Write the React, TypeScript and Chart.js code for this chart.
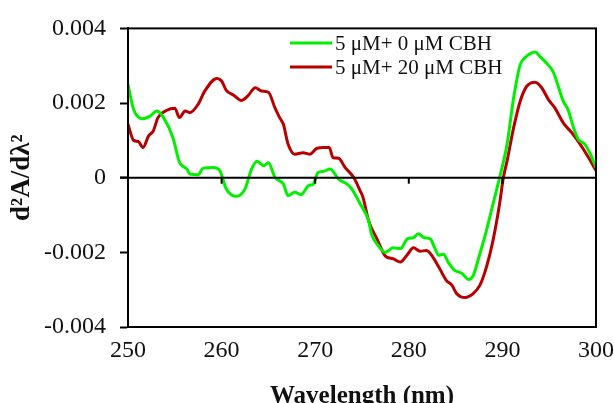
import React, { useEffect, useRef } from "react";
import { Chart, registerables } from "chart.js";

Chart.register(...registerables);

const seriesLabels = ["5 μM+ 0 μM CBH", "5 μM+ 20 μM CBH"];

const greenX = [250.0, 250.6, 251.6, 252.35, 253.1, 253.8, 254.8, 255.5, 256.3, 256.6, 257.5, 258.0, 259.1, 259.8, 260.5, 261.6, 262.5, 263.2, 263.8, 264.5, 265.0, 265.7, 266.6, 267.1, 267.8, 268.5, 269.3, 269.8, 270.3, 270.9, 271.6, 272.5, 273.4, 273.9, 274.8, 275.7, 276.0, 276.7, 277.5, 278.3, 279.1, 279.9, 280.5, 281.0, 281.7, 282.3, 282.8, 283.2, 283.7, 284.2, 284.8, 285.7, 286.4, 286.9, 287.6, 288.3, 289.0, 289.7, 290.5, 291.2, 291.9, 292.4, 293.5, 294.0, 294.7, 295.4, 295.9, 296.5, 297.0, 297.6, 298.1, 298.8, 299.4, 300.0];
const greenY = [0.0025, 0.00183, 0.00158, 0.00165, 0.00179, 0.00161, 0.00107, 0.00041, 0.00023, 0.0001, 0.00008, 0.00025, 0.00027, 0.00019, -0.0003, -0.0005, -0.0003, 0.00023, 0.00044, 0.00032, 0.0004, 0.00001, -0.00017, -0.00048, -0.00039, -0.00045, -0.00021, -0.00017, 0.00014, 0.00017, 0.00023, -0.00004, -0.00017, -0.0003, -0.0007, -0.00115, -0.0015, -0.00181, -0.002, -0.00188, -0.0019, -0.00163, -0.00161, -0.0015, -0.00161, -0.00164, -0.0019, -0.00208, -0.00205, -0.00226, -0.00246, -0.00257, -0.00273, -0.00261, -0.00203, -0.00141, -0.0007, 0.0, 0.0009, 0.00214, 0.00303, 0.00321, 0.00337, 0.00325, 0.00307, 0.00285, 0.0025, 0.00205, 0.00183, 0.00134, 0.00103, 0.0009, 0.00063, 0.00027];

const redX = [250.0, 250.6, 251.1, 251.6, 252.2, 252.7, 253.2, 254.1, 255.0, 255.5, 256.1, 256.6, 257.5, 258.2, 259.5, 260.0, 260.5, 261.3, 262.1, 262.8, 263.6, 264.3, 265.0, 265.7, 266.2, 266.6, 267.1, 267.8, 268.7, 269.4, 270.2, 270.9, 271.5, 271.9, 272.5, 273.2, 274.1, 274.8, 275.1, 275.7, 276.6, 277.5, 278.3, 279.1, 279.8, 280.5, 281.2, 281.9, 282.3, 283.2, 284.0, 284.6, 285.1, 286.0, 286.9, 287.6, 288.3, 289.0, 289.7, 290.1, 290.5, 291.2, 291.9, 292.6, 293.5, 294.2, 294.9, 295.6, 296.5, 297.4, 298.3, 299.2, 300.0];
const redY = [0.00143, 0.001, 0.00097, 0.00081, 0.00112, 0.00125, 0.00161, 0.0018, 0.00186, 0.00161, 0.00179, 0.00174, 0.00197, 0.00232, 0.00266, 0.00259, 0.00234, 0.00221, 0.00207, 0.00219, 0.00241, 0.00232, 0.00229, 0.00187, 0.00161, 0.00143, 0.0009, 0.00063, 0.00067, 0.00063, 0.00079, 0.00081, 0.00081, 0.00054, 0.00052, 0.00027, 0.00001, -0.00035, -0.00052, -0.00115, -0.00164, -0.0021, -0.00217, -0.00226, -0.00208, -0.00188, -0.00197, -0.00195, -0.00203, -0.00239, -0.00275, -0.00288, -0.0031, -0.00321, -0.0031, -0.00288, -0.00239, -0.00168, -0.0007, 0.0, 0.00045, 0.00134, 0.00205, 0.00245, 0.00256, 0.00241, 0.0021, 0.00187, 0.00147, 0.00121, 0.0009, 0.00054, 0.00019];

const xTicks = [250, 260, 270, 280, 290, 300];
const yTicks = [-0.004, -0.002, 0, 0.002, 0.004];
const colors = ["#00F000", "#B80000"];

const SERIF = "'Liberation Serif', 'Times New Roman', serif";

const framePlugin = {
  id: "frame",
  afterDatasetsDraw(chart: any) {
    const { ctx, chartArea, scales } = chart;
    const xs = scales.x;
    const ys = scales.y;
    ctx.save();
    ctx.strokeStyle = "#000";
    ctx.lineWidth = 2;
    ctx.strokeRect(chartArea.left, chartArea.top, chartArea.right - chartArea.left, chartArea.bottom - chartArea.top);
    // zero line
    const y0 = ys.getPixelForValue(0);
    ctx.beginPath();
    ctx.moveTo(chartArea.left - 8, y0);
    ctx.lineTo(chartArea.right, y0);
    ctx.stroke();
    // tick marks on zero line
    for (const t of xTicks) {
      const px = xs.getPixelForValue(t);
      ctx.beginPath();
      ctx.moveTo(px, y0);
      ctx.lineTo(px, y0 + 6);
      ctx.stroke();
    }
    // legend
    ctx.font = `21px ${SERIF}`;
    ctx.textBaseline = "middle";
    ctx.textAlign = "left";
    const rows = [43, 67];
    chart.data.datasets.forEach((ds: any, i: number) => {
      ctx.strokeStyle = ds.borderColor;
      ctx.lineWidth = 3;
      ctx.beginPath();
      ctx.moveTo(290, rows[i]);
      ctx.lineTo(332, rows[i]);
      ctx.stroke();
      ctx.fillStyle = "#111";
      ctx.fillText(ds.label, 335, rows[i] + 1);
    });
    ctx.restore();
  },
};

export default function App() {
  const ref = useRef<HTMLCanvasElement | null>(null);
  useEffect(() => {
    if (!ref.current) return;
    const mk = (xs: number[], ys: number[]) => xs.map((x, i) => ({ x, y: ys[i] }));
    const chart = new Chart(ref.current, {
      type: "line",
      data: {
        datasets: [
          {
            label: seriesLabels[0],
            data: mk(greenX, greenY),
            borderColor: colors[0],
            borderWidth: 3,
            pointRadius: 0,
            cubicInterpolationMode: "monotone",
          },
          {
            label: seriesLabels[1],
            data: mk(redX, redY),
            borderColor: colors[1],
            borderWidth: 3,
            pointRadius: 0,
            cubicInterpolationMode: "monotone",
          },
        ],
      },
      options: {
        animation: false,
        responsive: false,
        maintainAspectRatio: false,
        layout: { padding: { top: 26, right: 0, left: 0, bottom: 0 } },
        plugins: { legend: { display: false }, tooltip: { enabled: false } },
        scales: {
          x: {
            type: "linear",
            min: 250,
            max: 300,
            afterBuildTicks: (s: any) => {
              s.ticks = xTicks.map((v) => ({ value: v }));
            },
            afterFit: (s: any) => {
              s.height = 85;
              s.paddingRight = 18;
              s.paddingLeft = 0;
            },
            ticks: {
              color: "#111",
              font: { family: SERIF, size: 24 },
              padding: 9,
              maxRotation: 0,
            },
            grid: { drawOnChartArea: false, drawTicks: false },
            border: { color: "#000", width: 2 },
            title: {
              display: true,
              text: "Wavelength (nm)",
              color: "#111",
              font: { family: SERIF, size: 25, weight: "bold" },
              padding: { top: 4, bottom: 0 },
            },
          },
          y: {
            min: -0.004,
            max: 0.004,
            afterBuildTicks: (s: any) => {
              s.ticks = yTicks.map((v) => ({ value: v }));
            },
            afterFit: (s: any) => {
              s.width = 128;
            },
            ticks: {
              color: "#111",
              font: { family: SERIF, size: 24 },
              padding: 14,
              callback: (v: any) => String(Number(Number(v).toFixed(3))),
            },
            grid: {
              drawOnChartArea: false,
              tickLength: 8,
              tickColor: "#000",
              tickWidth: 2,
            },
            border: { color: "#000", width: 2 },
            title: {
              display: true,
              text: "d²A/dλ²",
              color: "#111",
              font: { family: SERIF, size: 27, weight: "bold" },
              padding: { top: 6, bottom: 0 },
            },
          },
        },
      },
      plugins: [framePlugin],
    });
    return () => chart.destroy();
  }, []);
  return (
    <div style={{ position: "fixed", left: 0, top: 0, width: 614, height: 403, overflow: "hidden", background: "#fff" }}>
      <canvas ref={ref} width={614} height={412} style={{ width: 614, height: 412, display: "block" }} />
    </div>
  );
}
